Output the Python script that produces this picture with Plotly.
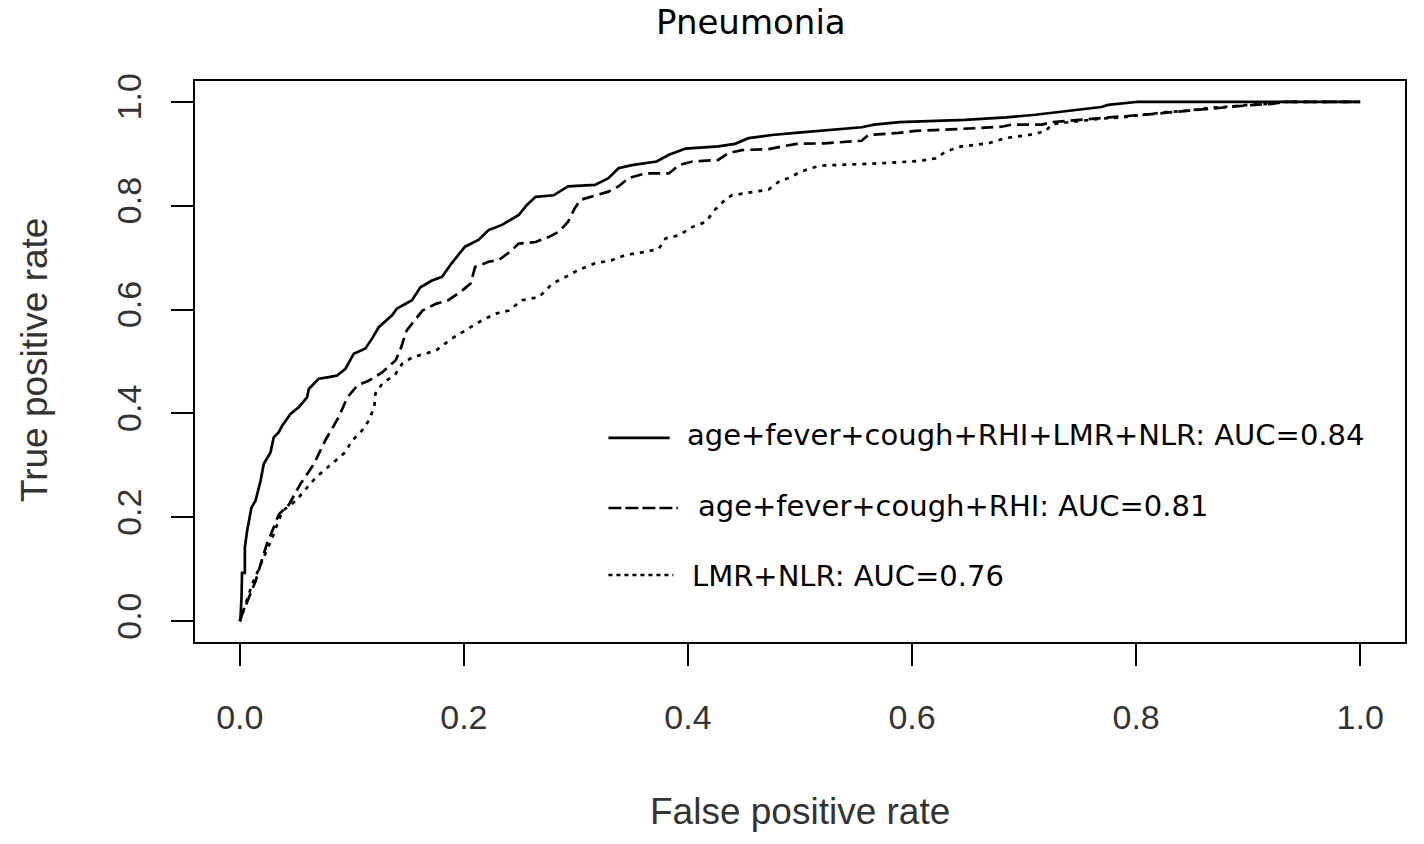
import plotly.graph_objects as go

# ---- data ----
fpr_full = [0, 0.0006, 0.0015, 0.002, 0.0045, 0.0045, 0.0065, 0.0104, 0.014, 0.0185, 0.0214,
            0.0274, 0.0303, 0.0348, 0.0377, 0.0452, 0.0526, 0.060, 0.0616, 0.0705, 0.0794,
            0.0868, 0.0943, 0.1017, 0.1121, 0.118, 0.124, 0.1359, 0.1403, 0.1537, 0.1612,
            0.1715, 0.1805, 0.189, 0.201, 0.213, 0.222, 0.234, 0.249, 0.256, 0.264, 0.280,
            0.293, 0.317, 0.329, 0.338, 0.350, 0.372, 0.383, 0.398, 0.427, 0.442, 0.454,
            0.475, 0.496, 0.531, 0.555, 0.566, 0.589, 0.647, 0.684, 0.710, 0.731, 0.751,
            0.769, 0.775, 0.802, 1.0]
tpr_full = [0, 0.006, 0.045, 0.093, 0.093, 0.142, 0.174, 0.219, 0.232, 0.270, 0.303,
            0.325, 0.354, 0.364, 0.376, 0.399, 0.412, 0.431, 0.447, 0.467, 0.470,
            0.473, 0.486, 0.515, 0.525, 0.544, 0.566, 0.589, 0.602, 0.618, 0.643,
            0.656, 0.663, 0.689, 0.721, 0.734, 0.753, 0.763, 0.782, 0.801, 0.817, 0.820,
            0.837, 0.840, 0.853, 0.872, 0.878, 0.885, 0.898, 0.910, 0.914, 0.919, 0.930,
            0.936, 0.940, 0.946, 0.951, 0.956, 0.961, 0.965, 0.970, 0.975, 0.980, 0.985,
            0.990, 0.994, 1.0, 1.0]

fpr_clin = [0, 0.002, 0.014, 0.024, 0.035, 0.044, 0.054, 0.066, 0.076, 0.088, 0.096, 0.105,
            0.115, 0.127, 0.139, 0.143, 0.149, 0.163, 0.175, 0.186, 0.197, 0.206, 0.210,
            0.222, 0.231, 0.241, 0.249, 0.264, 0.276, 0.285, 0.293, 0.299, 0.304, 0.317,
            0.329, 0.338, 0.347, 0.362, 0.383, 0.392, 0.404, 0.427, 0.436, 0.448, 0.472,
            0.484, 0.497, 0.522, 0.555, 0.561, 0.588, 0.603, 0.630, 0.656, 0.680, 0.689,
            0.716, 0.725, 0.737, 0.761, 0.775, 0.806, 0.823, 0.847, 0.870, 0.888, 0.906,
            0.921, 0.935, 1.0]
tpr_clin = [0, 0.013, 0.077, 0.148, 0.206, 0.225, 0.264, 0.302, 0.347, 0.392, 0.431, 0.454,
            0.463, 0.479, 0.502, 0.521, 0.560, 0.598, 0.611, 0.618, 0.634, 0.650, 0.682,
            0.692, 0.695, 0.711, 0.727, 0.730, 0.740, 0.750, 0.769, 0.795, 0.811, 0.819,
            0.827, 0.837, 0.853, 0.862, 0.862, 0.878, 0.885, 0.888, 0.901, 0.907, 0.909,
            0.914, 0.919, 0.920, 0.925, 0.936, 0.940, 0.944, 0.946, 0.949, 0.952, 0.956,
            0.956, 0.961, 0.963, 0.967, 0.970, 0.974, 0.978, 0.983, 0.988, 0.991, 0.994,
            0.996, 1.0, 1.0]

fpr_lab = [0, 0.004, 0.011, 0.020, 0.029, 0.038, 0.050, 0.068, 0.085, 0.094, 0.100, 0.109,
           0.115, 0.120, 0.121, 0.127, 0.139, 0.145, 0.154, 0.175, 0.189, 0.201, 0.216,
           0.228, 0.240, 0.252, 0.267, 0.273, 0.279, 0.291, 0.302, 0.317, 0.332, 0.344,
           0.362, 0.374, 0.380, 0.392, 0.404, 0.416, 0.424, 0.433, 0.439, 0.460, 0.472,
           0.481, 0.493, 0.499, 0.511, 0.519, 0.567, 0.576, 0.606, 0.621, 0.630, 0.644,
           0.668, 0.683, 0.704, 0.719, 0.725, 0.745, 0.766, 0.787, 0.808, 0.826, 0.847,
           0.864, 0.885, 0.900, 0.918, 0.930, 1.0]
tpr_lab = [0, 0.026, 0.071, 0.116, 0.161, 0.212, 0.232, 0.277, 0.309, 0.325, 0.347, 0.367,
           0.386, 0.412, 0.438, 0.457, 0.476, 0.496, 0.508, 0.521, 0.544, 0.560, 0.579,
           0.592, 0.598, 0.618, 0.624, 0.637, 0.650, 0.663, 0.676, 0.689, 0.695, 0.705,
           0.711, 0.717, 0.737, 0.743, 0.759, 0.769, 0.792, 0.811, 0.820, 0.827, 0.831,
           0.846, 0.856, 0.864, 0.873, 0.877, 0.880, 0.882, 0.886, 0.891, 0.904, 0.914,
           0.920, 0.930, 0.936, 0.943, 0.957, 0.962, 0.967, 0.970, 0.976, 0.980, 0.983,
           0.988, 0.991, 0.994, 0.996, 1.0, 1.0]

series_names = ["age+fever+cough+RHI+LMR+NLR: AUC=0.84",
                "age+fever+cough+RHI: AUC=0.81",
                "LMR+NLR: AUC=0.76"]
tick_vals = [0.0, 0.2, 0.4, 0.6, 0.8, 1.0]
tick_text = ["0.0", "0.2", "0.4", "0.6", "0.8", "1.0"]

curve_dash = ["solid", "12px,6px", "4px,6px"]
legend_dash = ["solid", "13px,4px", "4px,4px"]

fig = go.Figure()
for fx, fy, name, dash in zip([fpr_full, fpr_clin, fpr_lab], [tpr_full, tpr_clin, tpr_lab],
                              series_names, curve_dash):
    fig.add_trace(go.Scatter(x=fx, y=fy, mode="lines", name=name,
                             line=dict(color="black", width=2.7, dash=dash),
                             showlegend=False, hoverinfo="x+y+name"))

# hand-drawn style legend (as in the reference)
leg_y_line = [0.353, 0.218, 0.089]
leg_x_end = [0.3836, 0.391, 0.387]
leg_y_text = [0.358, 0.221, 0.088]
leg_x_text = [0.397, 0.4068, 0.4014]
for i in range(3):
    fig.add_shape(type="line", xref="x", yref="y", x0=0.329, x1=leg_x_end[i],
                  y0=leg_y_line[i], y1=leg_y_line[i],
                  line=dict(color="black", width=2.7, dash=legend_dash[i]))
    fig.add_annotation(x=leg_x_text[i], y=leg_y_text[i], xref="x", yref="y",
                       text=series_names[i], showarrow=False, xanchor="left", yanchor="middle",
                       font=dict(family="DejaVu Sans", size=29, color="black"))

# title anchored to the very top of the figure
fig.add_annotation(x=0.4595, y=1 + 81 / 561, xref="paper", yref="paper", text="Pneumonia",
                   showarrow=False, xanchor="center", yanchor="top",
                   font=dict(family="DejaVu Sans", size=34, color="black"))
fig.add_annotation(x=0.5, y=-0.303, xref="paper", yref="paper", text="False positive rate",
                   showarrow=False, xanchor="center", yanchor="middle",
                   font=dict(family="Liberation Sans", size=37, color="#333333"))
fig.add_annotation(x=-0.1322, y=0.5027, xref="paper", yref="paper", text="True positive rate",
                   showarrow=False, xanchor="center", yanchor="middle", textangle=-90,
                   font=dict(family="Liberation Sans", size=37, color="#333333"))

axis_common = dict(showgrid=False, zeroline=False, showline=True, mirror=True,
                   linecolor="black", linewidth=2, ticks="outside", ticklen=22,
                   tickwidth=2, tickcolor="black", tickvals=tick_vals, ticktext=tick_text,
                   tickfont=dict(family="Liberation Sans", size=34, color="#333333"))
fig.update_xaxes(range=[-0.04, 1.04], ticklabelstandoff=22, **axis_common)
fig.update_yaxes(range=[-0.04, 1.04], tickangle=-90, ticklabelstandoff=16, **axis_common)

fig.update_layout(width=1424, height=844, margin=dict(l=195, r=19, t=81, b=202),
                  paper_bgcolor="white", plot_bgcolor="white")

# remove the default 8px page margin so the figure fills the window exactly
fig.write_html("out.html", config={"displayModeBar": False},
               post_script="document.body.style.margin='0px';")
